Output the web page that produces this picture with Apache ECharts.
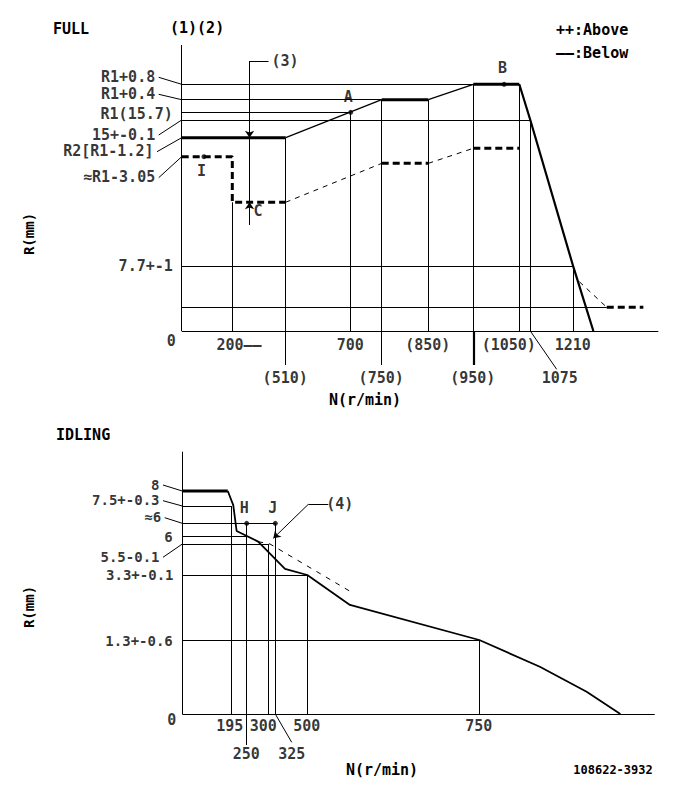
<!DOCTYPE html>
<html><head><meta charset="utf-8">
<script src="https://cdn.jsdelivr.net/npm/echarts@6/dist/echarts.min.js"></script>
<style>html,body{margin:0;padding:0;background:#fff}#c{width:685px;height:809px}</style>
</head><body><div id="c"></div>
<script>
// ================= DATA : FULL (N in r/min, R in mm) =================
const fullLevelsMm   = [16.5, 16.1, 15.7, 15.0, 14.5, 12.65, 7.7];
const fullLevelLabels= ['R1+0.8','R1+0.4','R1(15.7)','15+-0.1','R2[R1-1.2]','≈R1-3.05','7.7+-1'];
const fullTickRpm1   = [200, 700, 850, 1050, 1210];
const fullTickLabels1= ['200——','700','(850)','(1050)','1210'];
const fullTickRpm2   = [510, 750, 950, 1075];
const fullTickLabels2= ['(510)','(750)','(950)','1075'];
// upper (solid) characteristic
const fullFlat1 = [[0,14.5],[510,14.5]];
const fullRise1 = [[510,14.5],[750,16.1]];
const fullFlat2 = [[750,16.1],[850,16.1]];
const fullRise2 = [[850,16.1],[950,16.5]];
const fullFlat3 = [[950,16.5],[1050,16.5]];
const fullDrop  = [[1050,16.5],[1075,15.0],[1210,7.7],[1273,0]];
// lower (dashed) characteristic
const lowFlat1 = [[0,12.65],[200,12.65],[200,10.6],[510,10.6]];
const lowRise1 = [[510,10.6],[750,12.35]];
const lowFlat2 = [[750,12.35],[850,12.35]];
const lowRise2 = [[850,12.35],[950,13.47]];
const lowFlat3 = [[950,13.47],[1050,13.47]];
const lowDrop  = [[1229,5.9],[1315,2.84]];
const lowTail  = [[1315,2.84],[1430,2.84]];
const fullPoints = [[88,12.65,'I'],[700,15.7,'A'],[1017,16.5,'B']];
const fullHLines = [[16.5,1050],[16.1,750],[15.7,700],[15.0,1075],[7.7,1210],[2.84,1315]]; // [R, N end]
const fullVLines = [[200,10.6],[700,15.7],[850,16.1],[950,16.5],[1050,16.5],[1075,15.0],[1210,7.7]]; // [N, R top] to 0
const fullVLinesLong = [[510,14.5],[750,16.1]]; // continue below axis
const fullMarkRpm = 300, fullMarkTop = 14.5, fullMarkC = 10.6;
const fullAxisMaxRpm = 1477;

// ================= DATA : IDLING =================
const idleLevelsMm   = [8, 7.5, 6.4, 6, 5.5, 3.3, 1.3];
const idleLevelLabels= ['8','7.5+-0.3','≈6','6','5.5-0.1','3.3+-0.1','1.3+-0.6'];
const idleTickRpm1   = [195, 300, 500, 750];
const idleTickLabels1= ['195','300','500','750'];
const idleTickRpm2   = [250, 325];
const idleTickLabels2= ['250','325'];
const idleFlat  = [[0,8],[181,8]];
const idleCurve = [[181,8],[202,7.53],[214,6.17],[276,5.66],[378,3.73],[500,3.3],[562,2.38],[750,1.3],[838,0.83],[906,0.39],[955,0]];
const idleLow   = [[276,5.66],[305,5.5],[566,2.75]];
const idlePoints= [[250,6.4,'H'],[325,6.4,'J']];
const idleHLines= [[7.5,195],[6.4,325],[6,250],[5.5,300],[3.3,500],[1.3,750]];
const idleVLines= [[195,7.5],[300,5.5],[325,6.4],[500,3.3],[750,1.3]];
const idleVLinesLong = [[250,6.4]];
const idleAxisMaxRpm = 1005;

// ================= LAYOUT (schematic drawing scale, not to scale) =================
const LAY = {
  full: { xr:[0,200,510,700,750,850,950,1050,1075,1210], xp:[0,50.6,104,169,200,246.6,291.6,337.6,348.6,391.6],
          yr:[0,7.7,12.65,14.5,15,15.7,16.1,16.5], yp:[0,64.3,174.3,193.3,211,218.7,231.3,246.7],
          ox:181.7, oy:331, below:-34, axisTop:286, labSize:15,
          labRight:[155.7,155.7,173.3,155.7,154,155.7,173.3], labY:[77.3,94.3,114,135,151.7,177.7,266.7], leader:[1,1,0,1,1,1,0],
          tick1dx:[7.2,0,0,-10,0], tick1dy:14, tick2dx:[0,0,0,30], tick2dy:47 },
  idle: { xr:[0,195,250,300,325,500,750], xp:[0,49,64.4,86.4,93,125,297],
          yr:[0,1.3,3.3,5.5,6,6.4,7.5,8], yp:[0,74,139,170,177.3,190.7,208,223],
          ox:182.3, oy:714, below:-31, axisTop:262.3, labSize:14,
          labRight:[160,160,161.7,173.3,160,174,173.3], labY:[485,500.7,517.7,537.3,557.3,575,641.7], leader:[1,1,1,0,1,0,0],
          tick1dx:[-1,-5,0,0], tick1dy:12.7, tick2dx:[0,17], tick2dy:40 }
};
function lerp(v, xs, ys){
  const n = xs.length; let i = 0;
  if (v >= xs[n-1]) i = n-2; else if (v > xs[0]) { while (v > xs[i+1]) i++; }
  return ys[i] + (v - xs[i]) * (ys[i+1]-ys[i]) / (xs[i+1]-xs[i]);
}
const fx = (L, n) => lerp(n, L.xr, L.xp);
const fy = (L, r) => lerp(r, L.yr, L.yp);
const mp = (L, pts) => pts.map(p => [fx(L,p[0]), fy(L,p[1])]);

const FONT = 'DejaVu Sans Mono';
const series = [];
function line(gi, L, pts, width, dash, z){
  series.push({type:'line', xAxisIndex:gi, yAxisIndex:gi, data:mp(L,pts), symbol:'none', silent:true,
    lineStyle:{color:'#000', width:width, type:dash||'solid', cap:'butt'}, z:z||3});
}
function segs(gi, list, width, arrow){
  series.push({type:'lines', coordinateSystem:'cartesian2d', xAxisIndex:gi, yAxisIndex:gi, silent:true,
    symbol: arrow ? ['none','arrow'] : ['none','none'], symbolSize: 7,
    lineStyle:{color:'#000', width:width, opacity:1, curveness:0},
    data: list.map(c => ({coords:c})), z:2});
}
function texts(gi, items, size){
  series.push({type:'scatter', xAxisIndex:gi, yAxisIndex:gi, silent:true, symbolSize:1,
    itemStyle:{color:'transparent'},
    data: items.map(t => ({value:[t.x, t.y], label:{show:true, formatter:t.text, position:[0,0],
      align:t.align||'center', verticalAlign:'middle', offset:[t.dx||0, t.dy||0],
      fontFamily:FONT, fontSize:t.size||size||15, fontWeight:'bold', color:'#000'}})), z:5});
}
function dots(gi, L, pts, labOff){
  series.push({type:'scatter', xAxisIndex:gi, yAxisIndex:gi, silent:true, symbolSize:5,
    itemStyle:{color:'#000'},
    data: pts.map((p,i) => ({value:[fx(L,p[0]), fy(L,p[1])], label:{show:true, formatter:p[2], position:[0,0],
      align:'center', verticalAlign:'middle', offset:labOff[i], fontFamily:FONT, fontSize:15, fontWeight:'bold', color:'#000'}})), z:6});
}
function chart(gi, L, d){
  segs(gi, [[[0,0],[0,L.axisTop]], [[0,0],[fx(L,d.axisMax),0]]], 1);
  segs(gi, d.h.map(h => [[0,fy(L,h[0])],[fx(L,h[1]),fy(L,h[0])]]), 1);
  segs(gi, d.v.map(v => [[fx(L,v[0]),fy(L,v[1])],[fx(L,v[0]),0]]), 1);
  segs(gi, d.vl.map(v => [[fx(L,v[0]),fy(L,v[1])],[fx(L,v[0]),L.below]]), 1);
  const lab = [], lead = [];
  d.levels.forEach((r,i) => {
    const ly = fy(L,r);
    lab.push({x:0, y:ly, text:d.levelLabels[i], align:'right', size:L.labSize, dx:L.labRight[i]-L.ox, dy:L.labY[i]-(L.oy-ly)});
    if (L.leader[i]) lead.push([[L.labRight[i]+3-L.ox, L.oy-L.labY[i]],[0,ly]]);
  });
  segs(gi, lead, 1);
  d.t1.forEach((n,i) => lab.push({x:fx(L,n), y:0, text:d.t1l[i], dx:L.tick1dx[i], dy:L.tick1dy}));
  d.t2.forEach((n,i) => lab.push({x:fx(L,n), y:0, text:d.t2l[i], dx:L.tick2dx[i], dy:L.tick2dy}));
  lab.push({x:0, y:0, text:'0', dx:-10, dy:d.zeroDy});
  texts(gi, lab, 15);
}

// ---------- FULL ----------
const F = LAY.full;
chart(0, F, {axisMax:fullAxisMaxRpm, h:fullHLines, v:fullVLines, vl:fullVLinesLong, levels:fullLevelsMm, levelLabels:fullLevelLabels,
  t1:fullTickRpm1, t1l:fullTickLabels1, t2:fullTickRpm2, t2l:fullTickLabels2, zeroDy:10});
segs(0, [[[fx(F,950),0],[fx(F,950),F.below]]], 2.2);
segs(0, [[[fx(F,1075),0],[fx(F,1075)+26.4,-38.3]]], 1);
const mx = fx(F, fullMarkRpm);
segs(0, [[[mx,270],[mx,fy(F,fullMarkTop)]], [[mx,106],[mx,fy(F,fullMarkC)]]], 1, true);
segs(0, [[[mx,fy(F,fullMarkTop)],[mx,fy(F,fullMarkC)]], [[mx,270],[mx+19,270]]], 1);
texts(0, [{x:mx, y:270, text:'(3)', dx:36, dy:0}, {x:mx, y:fy(F,fullMarkC), text:'C', dx:9, dy:9}], 15);
line(0, F, fullFlat1, 3); line(0, F, fullRise1, 1.3); line(0, F, fullFlat2, 3);
line(0, F, fullRise2, 1.3); line(0, F, fullFlat3, 3); line(0, F, fullDrop, 2.2);
line(0, F, lowFlat1, 3, [7,4]); line(0, F, lowRise1, 1, [5,5]); line(0, F, lowFlat2, 3, [7,4]);
line(0, F, lowRise2, 1, [5,5]); line(0, F, lowFlat3, 3, [7,4]); line(0, F, lowDrop, 1, [5,5]); line(0, F, lowTail, 3, [7,4]);
dots(0, F, fullPoints, [[0,17],[0,-13],[1,-14]]);

// ---------- IDLING ----------
const I = LAY.idle;
chart(1, I, {axisMax:idleAxisMaxRpm, h:idleHLines, v:idleVLines, vl:idleVLinesLong, levels:idleLevelsMm, levelLabels:idleLevelLabels,
  t1:idleTickRpm1, t1l:idleTickLabels1, t2:idleTickRpm2, t2l:idleTickLabels2, zeroDy:6});
segs(1, [[[fx(I,325),0],[fx(I,325)+16.4,-28.3]]], 1);
segs(1, [[[126,209.7],[91,175.7]]], 1, true);
segs(1, [[[126,209.7],[146,209.7]]], 1);
texts(1, [{x:126, y:209.7, text:'(4)', dx:32, dy:0}], 15);
line(1, I, idleFlat, 3); line(1, I, idleCurve, 1.8);
line(1, I, idleLow, 1, [5,6]);
dots(1, I, idlePoints, [[0,-13],[0,-13]]);

const T = (x,y,text,opt) => Object.assign({type:'text', x, y, silent:true,
  style:{text, fill:'#000', font:'bold 15px "'+FONT+'"', align:'left', verticalAlign:'middle'}}, opt||{});
const option = {
  animation:false,
  grid:[{left:0, top:0, width:685, height:420}, {left:0, top:420, width:685, height:389}],
  xAxis:[{type:'value', gridIndex:0, min:-F.ox, max:685-F.ox, show:false},
         {type:'value', gridIndex:1, min:-I.ox, max:685-I.ox, show:false}],
  yAxis:[{type:'value', gridIndex:0, min:F.oy-420, max:F.oy, show:false},
         {type:'value', gridIndex:1, min:I.oy-809, max:I.oy-420, show:false}],
  series: series,
  graphic:[
    T(53,29,'FULL'), T(170,28,'(1)(2)'),
    T(556,30,'++:Above'), T(556,53,'——:Below'),
    {type:'text', x:29, y:234, rotation:Math.PI/2, silent:true, style:{text:'R(mm)', fill:'#000', font:'bold 14px "'+FONT+'"', align:'center', verticalAlign:'middle'}},
    {type:'text', x:365, y:400, silent:true, style:{text:'N(r/min)', fill:'#000', font:'bold 15px "'+FONT+'"', align:'center', verticalAlign:'middle'}},
    T(56,435,'IDLING'),
    {type:'text', x:29, y:607, rotation:Math.PI/2, silent:true, style:{text:'R(mm)', fill:'#000', font:'bold 14px "'+FONT+'"', align:'center', verticalAlign:'middle'}},
    {type:'text', x:382, y:770, silent:true, style:{text:'N(r/min)', fill:'#000', font:'bold 15px "'+FONT+'"', align:'center', verticalAlign:'middle'}},
    {type:'text', x:613, y:770, silent:true, style:{text:'108622-3932', fill:'#000', font:'bold 12px "'+FONT+'"', align:'center', verticalAlign:'middle'}}
  ]
};
const ch = echarts.init(document.getElementById('c'), null, {renderer:'svg'});
ch.setOption(option);
</script></body></html>
